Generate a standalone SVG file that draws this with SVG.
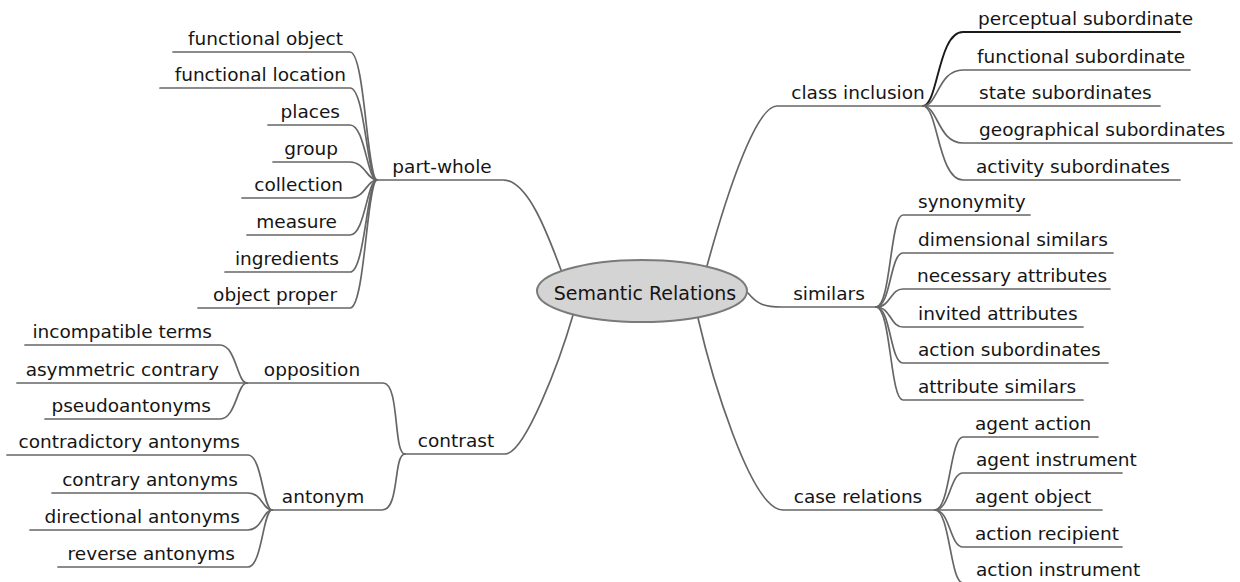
<svg xmlns="http://www.w3.org/2000/svg" width="1240" height="582" viewBox="0 0 1240 582">
  <style>
    .bg { fill: #ffffff; }
    .link { fill: none; stroke: #666666; stroke-width: 1.7; stroke-linecap: round; }
    .link.dark { stroke: #1a1a1a; stroke-width: 1.9; }
    .lbl { font-family: "DejaVu Sans", "Liberation Sans", sans-serif; font-size: 18.5px; fill: #151515; }
    .l { text-anchor: end; }
    .m { text-anchor: middle; }
    .root { fill: #d4d4d4; stroke: #7a7a7a; stroke-width: 2; }
  </style>
  <rect class="bg" x="0" y="0" width="1240" height="582"/>

  <!-- connectors: underlines and curves -->
  <g id="connectors">
    <!-- root to first-level branches -->
    <path class="link" d="M377,180 H503 C528,180 548,235 561,270"/>
    <path class="link" d="M923,106 H777 C755,106 725,200 707,266"/>
    <path class="link" d="M748,293 C758,305 765,307 782,307 H876"/>
    <path class="link" d="M405,454 H505 C525,454 560,360 573,315"/>
    <path class="link" d="M698,318 C710,370 750,510 783,510 H935"/>
    <path class="link" d="M247,383 H383 C400,383 393,454 405,454"/>
    <path class="link" d="M272,510 H382 C400,510 393,454 405,454"/>

    <!-- part-whole leaves -->
    <path class="link" d="M173,52 H350 C365,52 367,180 377,180"/>
    <path class="link" d="M160,88 H350 C365,88 367,180 377,180"/>
    <path class="link" d="M268,125 H350 C365,125 367,180 377,180"/>
    <path class="link" d="M273,162 H350 C365,162 367,180 377,180"/>
    <path class="link" d="M242,198 H350 C365,198 367,180 377,180"/>
    <path class="link" d="M247,235 H350 C365,235 367,180 377,180"/>
    <path class="link" d="M225,272 H350 C365,272 367,180 377,180"/>
    <path class="link" d="M198,308 H350 C365,308 367,180 377,180"/>

    <!-- opposition leaves -->
    <path class="link" d="M25,345 H220 C236,345 237,383 247,383"/>
    <path class="link" d="M17,383 H247"/>
    <path class="link" d="M45,419 H220 C236,419 237,383 247,383"/>

    <!-- antonym leaves -->
    <path class="link" d="M7,455 H248 C262,455 263,510 272,510"/>
    <path class="link" d="M52,493 H248 C262,493 263,510 272,510"/>
    <path class="link" d="M30,530 H248 C262,530 263,510 272,510"/>
    <path class="link" d="M58,567 H248 C262,567 263,510 272,510"/>

    <!-- class inclusion leaves -->
    <path class="link dark" d="M923,106 C938,106 938,32 963,32 H1180"/>
    <path class="link" d="M923,106 C938,106 938,70 963,70 H1190"/>
    <path class="link" d="M923,106 H1160"/>
    <path class="link" d="M923,106 C938,106 938,143 963,143 H1232"/>
    <path class="link" d="M923,106 C938,106 938,180 963,180 H1180"/>

    <!-- similars leaves -->
    <path class="link" d="M876,307 C891,307 890,215 903,215 H1030"/>
    <path class="link" d="M876,307 C891,307 890,253 903,253 H1113"/>
    <path class="link" d="M876,307 C891,307 890,289 903,289 H1110"/>
    <path class="link" d="M876,307 C891,307 890,327 903,327 H1083"/>
    <path class="link" d="M876,307 C891,307 890,363 903,363 H1108"/>
    <path class="link" d="M876,307 C891,307 890,400 903,400 H1083"/>

    <!-- case relations leaves -->
    <path class="link" d="M935,510 C950,510 950,437 963,437 H1098"/>
    <path class="link" d="M935,510 C950,510 950,473 963,473 H1122"/>
    <path class="link" d="M935,510 H1102"/>
    <path class="link" d="M935,510 C950,510 950,547 963,547 H1122"/>
    <path class="link" d="M935,510 C950,510 950,583 963,583 H1125"/>
  </g>

  <!-- root -->
  <g id="semantic-relations">
    <ellipse class="root" cx="642" cy="291" rx="105" ry="31"/>
    <text class="lbl m" x="645" y="300" style="font-size:19px">Semantic Relations</text>
  </g>

  <!-- first-level branches -->
  <g id="part-whole"><text class="lbl m" x="442" y="173">part-whole</text></g>
  <g id="class-inclusion"><text class="lbl m" x="858" y="99">class inclusion</text></g>
  <g id="similars"><text class="lbl m" x="829" y="300">similars</text></g>
  <g id="contrast"><text class="lbl m" x="456" y="447">contrast</text></g>
  <g id="case-relations"><text class="lbl m" x="858" y="503">case relations</text></g>
  <g id="opposition"><text class="lbl m" x="312" y="376">opposition</text></g>
  <g id="antonym"><text class="lbl m" x="323" y="503">antonym</text></g>

  <!-- part-whole leaves -->
  <g id="functional-object"><text class="lbl l" x="343" y="45">functional object</text></g>
  <g id="functional-location"><text class="lbl l" x="346" y="81">functional location</text></g>
  <g id="places"><text class="lbl l" x="340" y="118">places</text></g>
  <g id="group"><text class="lbl l" x="338" y="155">group</text></g>
  <g id="collection"><text class="lbl l" x="343" y="191">collection</text></g>
  <g id="measure"><text class="lbl l" x="337" y="228">measure</text></g>
  <g id="ingredients"><text class="lbl l" x="339" y="265">ingredients</text></g>
  <g id="object-proper"><text class="lbl l" x="337" y="301">object proper</text></g>

  <!-- opposition leaves -->
  <g id="incompatible-terms"><text class="lbl l" x="212" y="338">incompatible terms</text></g>
  <g id="asymmetric-contrary"><text class="lbl l" x="219" y="376">asymmetric contrary</text></g>
  <g id="pseudoantonyms"><text class="lbl l" x="211" y="412">pseudoantonyms</text></g>

  <!-- antonym leaves -->
  <g id="contradictory-antonyms"><text class="lbl l" x="240" y="448">contradictory antonyms</text></g>
  <g id="contrary-antonyms"><text class="lbl l" x="238" y="486">contrary antonyms</text></g>
  <g id="directional-antonyms"><text class="lbl l" x="240" y="523">directional antonyms</text></g>
  <g id="reverse-antonyms"><text class="lbl l" x="235" y="560">reverse antonyms</text></g>

  <!-- class inclusion leaves -->
  <g id="perceptual-subordinate"><text class="lbl" x="978" y="25">perceptual subordinate</text></g>
  <g id="functional-subordinate"><text class="lbl" x="977" y="63">functional subordinate</text></g>
  <g id="state-subordinates"><text class="lbl" x="979" y="99">state subordinates</text></g>
  <g id="geographical-subordinates"><text class="lbl" x="979" y="136">geographical subordinates</text></g>
  <g id="activity-subordinates"><text class="lbl" x="976" y="173">activity subordinates</text></g>

  <!-- similars leaves -->
  <g id="synonymity"><text class="lbl" x="918" y="208">synonymity</text></g>
  <g id="dimensional-similars"><text class="lbl" x="918" y="246">dimensional similars</text></g>
  <g id="necessary-attributes"><text class="lbl" x="917" y="282">necessary attributes</text></g>
  <g id="invited-attributes"><text class="lbl" x="918" y="320">invited attributes</text></g>
  <g id="action-subordinates"><text class="lbl" x="918" y="356">action subordinates</text></g>
  <g id="attribute-similars"><text class="lbl" x="918" y="393">attribute similars</text></g>

  <!-- case relations leaves -->
  <g id="agent-action"><text class="lbl" x="975" y="430">agent action</text></g>
  <g id="agent-instrument"><text class="lbl" x="976" y="466">agent instrument</text></g>
  <g id="agent-object"><text class="lbl" x="975" y="503">agent object</text></g>
  <g id="action-recipient"><text class="lbl" x="975" y="540">action recipient</text></g>
  <g id="action-instrument"><text class="lbl" x="976" y="576">action instrument</text></g>
</svg>
